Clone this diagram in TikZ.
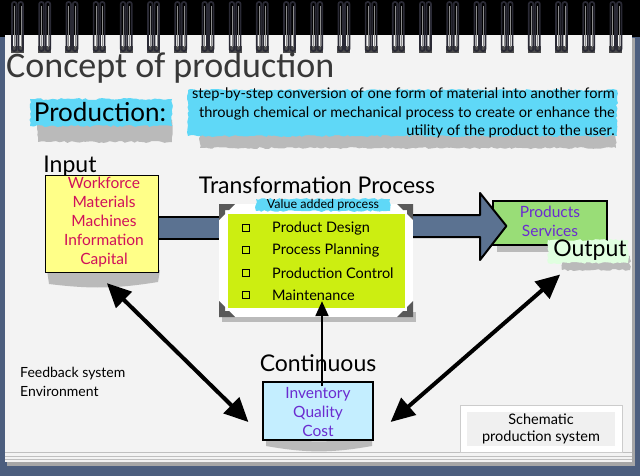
\documentclass[tikz,border=0pt]{standalone}
\usepackage{fontspec}
\setmainfont{Lato}
\newfontfamily\titlefont{Carlito}
\usetikzlibrary{arrows.meta,calc,decorations.pathmorphing}
\definecolor{slate}{HTML}{4C5E7E}
\definecolor{paper}{HTML}{F3F3F3}
\definecolor{cyanhl}{HTML}{5FD8F7}
\definecolor{inyellow}{HTML}{FFFF88}
\definecolor{crim}{HTML}{D0105A}
\definecolor{lime}{HTML}{CCEE11}
\definecolor{outgreen}{HTML}{99DD77}
\definecolor{purp}{HTML}{6A2BD0}
\definecolor{costblue}{HTML}{C4EEFF}
\definecolor{bandblue}{HTML}{5B7291}
\definecolor{ringc}{HTML}{2A2A35}
\tikzset{
  hand/.style={font=\fontsize{15.5}{19}\selectfont, align=center, inner sep=0pt},
  bighand/.style={font=\fontsize{23}{24}\selectfont, inner sep=0pt},
  torn/.style={decorate, decoration={random steps, segment length=3pt, amplitude=1pt}},
  ring/.style={draw=ringc, line width=1.7pt, rounded corners=2pt},
  chk/.style={draw=black, line width=1pt, minimum size=7pt, inner sep=0pt},
  item/.style={font=\fontsize{14.5}{15}\selectfont, anchor=west, inner sep=0pt},
  dbl/.style={line width=4pt, {Triangle[length=24pt,width=22pt]}-{Triangle[length=24pt,width=22pt]}},
  shade/.style={fill=black!45, opacity=0.55},
}
\begin{document}
\begin{tikzpicture}[x=1pt,y=-1pt]
\useasboundingbox (0,0) rectangle (640,476);
% background and paper
\fill[slate] (0,0) rectangle (640,476);
\fill[black] (0,0) rectangle (640,37);
\fill[black!35] (7,38) rectangle (635,466);
\fill[paper] (5,35) rectangle (632,462);
\foreach \yy in {452,456,459} \draw[black!25, line width=0.6pt] (5,\yy) -- (632,\yy);
% rings
\foreach \i in {0,...,22} {
  \pgfmathsetmacro\rx{18+27.2*\i}
  \fill[black!70] ({\rx-7},46) rectangle ({\rx+6},53);
  \draw[ring] ({\rx-6},2) rectangle ({\rx-1.5},51);
  \draw[ring] ({\rx+0.5},2) rectangle ({\rx+5},51);
  \draw[black!45, line width=0.5pt] ({\rx-3.7},6) -- ({\rx-3.7},47);
  \draw[black!45, line width=0.5pt] ({\rx+2.8},6) -- ({\rx+2.8},47);
}
% title
\node[anchor=west, inner sep=0pt, text=black!78, font=\titlefont\fontsize{36}{37}\selectfont] (title) at (6,68) {Concept of production};
% production label
\fill[shade, torn] (38,120) rectangle (172,142);
\fill[cyanhl, torn] (30,99) rectangle (172,126);
\node[inner sep=0pt, font=\fontsize{26}{27}\selectfont] (prod) at (100,112) {Production:};
% definition
\fill[shade, torn] (200,130) rectangle (616,148);
\fill[cyanhl, torn] (188,90) rectangle (617,136);
\node[anchor=north east, align=right, inner sep=0pt, font=\fontsize{14.6}{18.5}\selectfont] (def) at (615,88)
 {step-by-step conversion of one form of material into another form\\
  through chemical or mechanical process to create or enhance the\\
  utility of the product to the user.};
% input
\fill[shade] (47,270) -- (160,270) -- (158,282) to[bend left=8] (49,284) -- cycle;
\node[draw=black, line width=1.3pt, fill=inyellow, minimum width=113pt, minimum height=97pt, inner sep=0pt] (inbox) at (102,224) {};
\node[hand, text=crim] (intext) at (104,222) {Workforce\\Materials\\Machines\\Information\\Capital};
\node[bighand] (inlbl) at (70,166) {Input};
% transformation frame
\fill[shade] (222,312) rectangle (416,322);
\node[fill=white, minimum width=194pt, minimum height=113pt, inner sep=0pt] (frame) at (316,260.5) {};
\node[fill=lime, minimum width=177pt, minimum height=94pt, inner sep=0pt] (green) at (316.5,261) {};
\foreach \cx/\cy/\sx/\sy in {219/204/1/1, 413/204/-1/1, 219/317/1/-1, 413/317/-1/-1}
  \fill[black!65] (\cx,\cy) -- ++(16*\sx,0) -- ++(-6*\sx,6*\sy) -- ++(-4*\sx,0) -- ++(0,4*\sy) -- ++(-6*\sx,6*\sy) -- cycle;
\fill[cyanhl, torn] (256,199) rectangle (390,211);
\node[inner sep=0pt, font=\fontsize{12.5}{13}\selectfont] (val) at (323,205) {Value added process};
\node[bighand] (tlbl) at (317,185) {Transformation Process};
\foreach \n/\yy/\t in {1/228/Product Design, 2/250/Process Planning, 3/273/Production Control, 4/295/Maintenance} {
  \node[chk] (c\n) at (246,\yy) {};
  \node[item] (i\n) at (272,\yy) {\t};
}
% band arrow input -> transformation
\coordinate (b1) at ($(inbox.east)+(0,3.5)$);
\coordinate (b2) at ($(frame.west)+(0,-33)$);
\fill[bandblue] (b1 |- 0,217) rectangle (b2 |- 0,239);
\draw[black, line width=2pt] (b1 |- 0,217) -- (b2 |- 0,217) (b1 |- 0,239) -- (b2 |- 0,239);
% output
\fill[shade] (497,243) rectangle (607,252);
\node[draw=black, line width=1.2pt, fill=outgreen, minimum width=114pt, minimum height=44pt, inner sep=0pt] (outbox) at (550,223) {};
\node[hand, text=purp] (outtext) at (550,221) {Products\\Services};
% arrow transformation -> output
\coordinate (a0) at ($(frame.east)+(0,-34.5)$);
\coordinate (tip) at ($(outbox.west)+(14,3)$);
\filldraw[fill=bandblue, draw=black, line width=2pt, line join=round]
  (a0 |- 0,215) -- (480,215) -- (480,193) -- (tip) -- (480,260) -- (480,237) -- (a0 |- 0,237);
\fill[shade, torn] (562,256) rectangle (630,270);
\fill[green!12, torn] (548,240) rectangle (628,263);
\node[bighand] (outlbl) at (590,250) {Output};
% continuous box
\fill[shade] (266,436) to[bend right=10] (372,436) -- (372,446) to[bend left=10] (266,446) -- cycle;
\node[draw=black, line width=1.2pt, fill=costblue, minimum width=110pt, minimum height=58pt, inner sep=0pt] (cbox) at (318,411) {};
\node[hand, text=purp] (ctext) at (318,412) {Inventory\\Quality\\Cost};
\node[bighand] (clbl) at (318,363) {Continuous};
% arrows
\draw[line width=2.2pt, -{Triangle[length=15pt,width=13pt]}] ($(cbox.north)+(4,5)$) -- ($(frame.south)+(6,-16)$);
\coordinate (l1) at ($(inbox.south west)+(62,10)$);
\coordinate (l2) at ($(cbox.west)+(-14,11)$);
\draw[dbl] (l1) -- (l2);
\coordinate (r1) at ($(outlbl.south west)+(7,14)$);
\coordinate (r2) at ($(cbox.east)+(17,11)$);
\draw[dbl] (r1) -- (r2);
% feedback
\node[anchor=west, inner sep=0pt, font=\fontsize{14}{19}\selectfont, align=left] (fb) at (20,382) {Feedback system\\Environment};
% schematic
\node[draw=black!20, fill=white, minimum width=162pt, minimum height=47pt, inner sep=0pt] (sch) at (541,428.5) {};
\node[fill=black!6, minimum width=148pt, minimum height=34pt, inner sep=0pt] (schin) at (541,429) {};
\node[inner sep=0pt, align=center, font=\fontsize{14.5}{17}\selectfont] (schtext) at (541,429) {Schematic\\production system};
\end{tikzpicture}
\end{document}
